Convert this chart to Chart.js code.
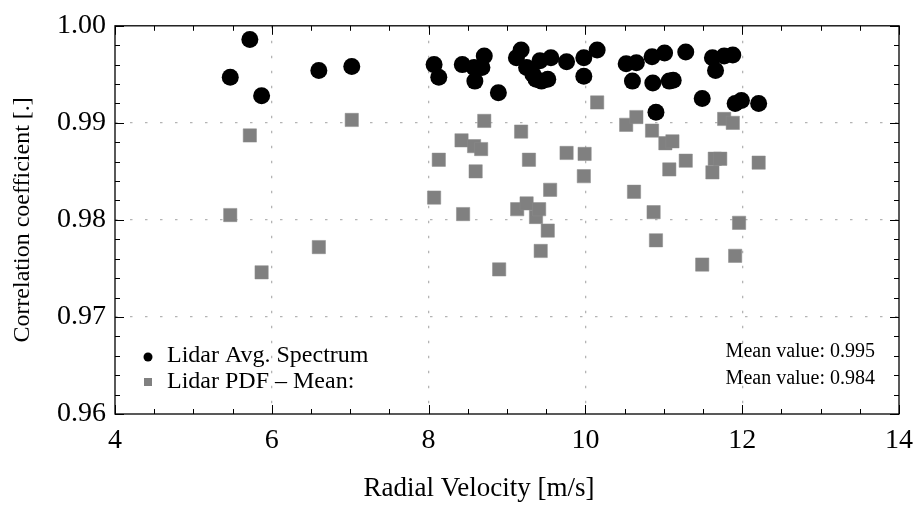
<!DOCTYPE html>
<html>
<head>
<meta charset="utf-8">
<script src="https://cdn.jsdelivr.net/npm/chart.js@4.4.1/dist/chart.umd.min.js"></script>
<style>
  html, body { margin: 0; padding: 0; background: #fff; }
</style>
</head>
<body>
<canvas id="corrChart" width="923" height="506"></canvas>
<script>
// --- Data ---
const spectrumVel = [5.47, 5.72, 5.87, 6.60, 7.02, 8.07, 8.13, 8.43, 8.58, 8.59, 8.68, 8.71, 8.89, 9.12, 9.18, 9.25, 9.33, 9.37, 9.42, 9.44, 9.52, 9.56, 9.76, 9.98, 9.98, 10.15, 10.52, 10.60, 10.65, 10.85, 10.86, 10.90, 11.01, 11.07, 11.12, 11.28, 11.49, 11.62, 11.66, 11.77, 11.88, 11.91, 11.99, 12.21];
const spectrumCorr = [0.9947, 0.9986, 0.9928, 0.9954, 0.9958, 0.9960, 0.9947, 0.9960, 0.9957, 0.9943, 0.9957, 0.9969, 0.9931, 0.9967, 0.9975, 0.9957, 0.9950, 0.9945, 0.9964, 0.9943, 0.9945, 0.9967, 0.9963, 0.9967, 0.9948, 0.9975, 0.9961, 0.9943, 0.9962, 0.9968, 0.9941, 0.9911, 0.9972, 0.9943, 0.9944, 0.9973, 0.9925, 0.9967, 0.9954, 0.9969, 0.9970, 0.9920, 0.9923, 0.9920];

const pdfVel = [5.47, 5.72, 5.87, 6.60, 7.02, 8.07, 8.13, 8.42, 8.44, 8.58, 8.60, 8.67, 8.71, 8.90, 9.13, 9.18, 9.25, 9.28, 9.37, 9.41, 9.43, 9.52, 9.55, 9.76, 9.98, 9.99, 10.15, 10.52, 10.62, 10.65, 10.85, 10.87, 10.90, 11.02, 11.07, 11.11, 11.28, 11.49, 11.62, 11.65, 11.72, 11.77, 11.88, 11.91, 11.96, 12.21];
const pdfCorr = [0.9805, 0.9887, 0.9746, 0.9772, 0.9903, 0.9823, 0.9862, 0.9882, 0.9806, 0.9876, 0.9850, 0.9873, 0.9902, 0.9749, 0.9811, 0.9891, 0.9817, 0.9862, 0.9803, 0.9811, 0.9768, 0.9789, 0.9831, 0.9869, 0.9845, 0.9868, 0.9921, 0.9898, 0.9829, 0.9906, 0.9892, 0.9808, 0.9779, 0.9879, 0.9852, 0.9881, 0.9861, 0.9754, 0.9849, 0.9863, 0.9863, 0.9904, 0.9900, 0.9763, 0.9797, 0.9859];

const seriesNames = ['Lidar Avg. Spectrum', 'Lidar PDF \u2013 Mean:'];
const meanLabels = ['Mean value: 0.995', 'Mean value: 0.984'];
const xTitle = 'Radial Velocity [m/s]';
const yTitle = 'Correlation coefficient [.]';
const xMajor = [4, 6, 8, 10, 12, 14];
const yMajor = [0.96, 0.97, 0.98, 0.99, 1.00];

const SERIF = "'Liberation Serif', 'DejaVu Serif', serif";
const GRID_GRAY = '#b4b4b4';
const PDF_GRAY = '#808080';

const toPoints = (xs, ys) => xs.map((x, i) => ({ x: x, y: ys[i] }));

// frame + inward ticks (Mathematica style)
const frameTicks = {
  id: 'frameTicks',
  afterDraw(chart) {
    const { ctx, chartArea: a, scales: { x, y } } = chart;
    ctx.save();
    ctx.strokeStyle = '#000';
    ctx.lineWidth = 1.3;
    ctx.strokeRect(a.left, a.top, a.right - a.left, a.bottom - a.top);
    ctx.beginPath();
    for (let v = 4; v <= 14.001; v += 0.5) {
      const px = Math.round(x.getPixelForValue(v)) + 0.5;
      const len = Math.abs(v % 2) < 1e-6 ? 9 : 5;
      ctx.moveTo(px, a.bottom); ctx.lineTo(px, a.bottom - len);
      ctx.moveTo(px, a.top); ctx.lineTo(px, a.top + len);
    }
    for (let i = 0; i <= 20; i++) {
      const v = 0.96 + i * 0.002;
      const py = Math.round(y.getPixelForValue(v)) + 0.5;
      const len = i % 5 === 0 ? 9 : 5;
      ctx.moveTo(a.left, py); ctx.lineTo(a.left + len, py);
      ctx.moveTo(a.right, py); ctx.lineTo(a.right - len, py);
    }
    ctx.lineWidth = 1;
    ctx.stroke();
    ctx.restore();
  }
};

// legend, mean values and x label (sits a bit left of the frame centre)
const innerLegend = {
  id: 'innerLegend',
  afterDraw(chart) {
    const ctx = chart.ctx;
    ctx.save();
    ctx.fillStyle = '#000';
    ctx.beginPath();
    ctx.arc(148, 357, 4.5, 0, Math.PI * 2);
    ctx.fill();
    ctx.fillStyle = PDF_GRAY;
    ctx.fillRect(144, 378, 8, 8);
    ctx.fillStyle = '#000';
    ctx.textBaseline = 'middle';
    ctx.font = '24px ' + SERIF;
    ctx.textAlign = 'left';
    ctx.fillText(seriesNames[0], 167, 356);
    ctx.fillText(seriesNames[1], 167, 382);
    ctx.font = '20px ' + SERIF;
    ctx.textAlign = 'right';
    ctx.fillText(meanLabels[0], 875, 352);
    ctx.fillText(meanLabels[1], 875, 379);
    ctx.font = '27px ' + SERIF;
    ctx.textAlign = 'center';
    ctx.fillText(xTitle, 479, 489);
    ctx.restore();
  }
};

const gridColor = (ctx) => {
  const v = ctx.tick && ctx.tick.value;
  const s = ctx.scale;
  return (Math.abs(v - s.min) < 1e-9 || Math.abs(v - s.max) < 1e-9) ? 'rgba(0,0,0,0)' : GRID_GRAY;
};

const corrCtx = document.getElementById('corrChart').getContext('2d');
const corrChart = new Chart(corrCtx, {
  type: 'scatter',
  data: {
    datasets: [
      {
        label: seriesNames[1],
        data: toPoints(pdfVel, pdfCorr),
        pointStyle: 'rect',
        pointRadius: 9.4,
        backgroundColor: PDF_GRAY,
        borderColor: '#8a8a8a',
        borderWidth: 0.5,
        order: 2
      },
      {
        label: seriesNames[0],
        data: toPoints(spectrumVel, spectrumCorr),
        pointStyle: 'circle',
        pointRadius: 8.5,
        backgroundColor: '#000',
        borderColor: '#000',
        borderWidth: 0,
        order: 1
      }
    ]
  },
  options: {
    responsive: false,
    animation: false,
    devicePixelRatio: 1,
    layout: { padding: { left: 8, right: 14, top: 19, bottom: 0 } },
    plugins: {
      legend: { display: false },
      tooltip: { enabled: false }
    },
    scales: {
      x: {
        type: 'linear', min: 4, max: 14,
        afterBuildTicks: s => { s.ticks = xMajor.map(v => ({ value: v })); },
        afterFit: s => { s.height = 92; },
        grid: { color: gridColor, lineWidth: 1.3, drawTicks: false },
        border: { display: false, dash: [2.5, 12.5] },
        ticks: { color: '#000', padding: 10, font: { family: SERIF, size: 28 }, maxRotation: 0 },
        title: { display: false }
      },
      y: {
        type: 'linear', min: 0.96, max: 1.00,
        afterBuildTicks: s => { s.ticks = yMajor.map(v => ({ value: v })); },
        afterFit: s => { s.width = 107; },
        grid: { color: gridColor, lineWidth: 1.3, drawTicks: false },
        border: { display: false, dash: [2.5, 12.5] },
        ticks: { color: '#000', padding: 9, font: { family: SERIF, size: 28 }, callback: v => v.toFixed(2) },
        title: { display: true, text: yTitle, color: '#000', padding: { top: 0, bottom: 0 }, font: { family: SERIF, size: 24 } }
      }
    }
  },
  plugins: [frameTicks, innerLegend]
});
</script>
</body>
</html>
